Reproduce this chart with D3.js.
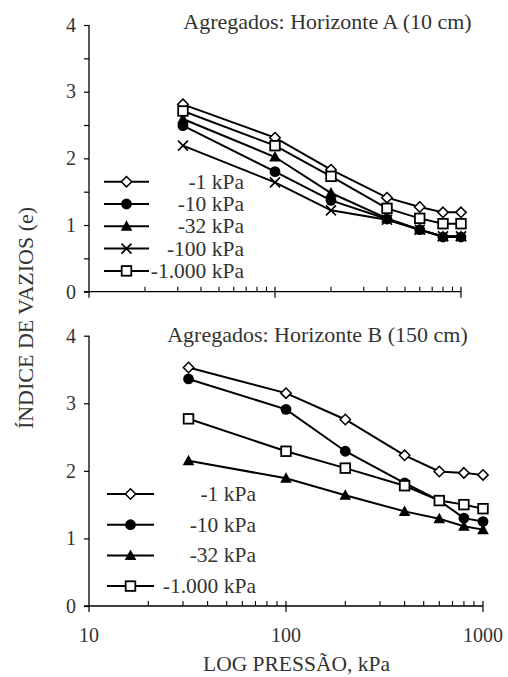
<!DOCTYPE html>
<html><head><meta charset="utf-8">
<script src="https://cdn.jsdelivr.net/npm/d3@7"></script>
</head><body style="margin:0">
<script>
// ---- data ----
const pressures = [32, 100, 200, 400, 600, 800, 1000];
const xTickLabels = ["10", "100", "1000"];
const yTickLabels = ["0", "1", "2", "3", "4"];
const titleA = "Agregados: Horizonte A (10 cm)";
const titleB = "Agregados: Horizonte B (150 cm)";
const xAxisTitle = "LOG PRESSÃO, kPa";
const yAxisTitle = "ÍNDICE DE VAZIOS (e)";

const namesA = ["-1 kPa", "-10 kPa", "-32 kPa", "-100 kPa", "-1.000 kPa"];
const symbolsA = ["diamond", "circle", "triangle", "cross", "square"];
const a_1 = [2.81, 2.31, 1.83, 1.41, 1.27, 1.19, 1.19];
const a_10 = [2.49, 1.80, 1.37, 1.09, 0.93, 0.82, 0.82];
const a_32 = [2.59, 2.02, 1.48, 1.10, 0.93, 0.83, 0.83];
const a_100 = [2.19, 1.64, 1.22, 1.08, 0.93, 0.83, 0.83];
const a_1000 = [2.71, 2.19, 1.73, 1.25, 1.10, 1.02, 1.02];

const namesB = ["-1 kPa", "-10 kPa", "-32 kPa", "-1.000 kPa"];
const symbolsB = ["diamond", "circle", "triangle", "square"];
const b_1 = [3.53, 3.15, 2.76, 2.23, 1.99, 1.97, 1.94];
const b_10 = [3.36, 2.91, 2.29, 1.82, 1.56, 1.30, 1.25];
const b_32 = [2.15, 1.89, 1.64, 1.40, 1.29, 1.18, 1.13];
const b_1000 = [2.77, 2.29, 2.04, 1.78, 1.56, 1.50, 1.44];

const W = 508, H = 677;
const FONT = "Times New Roman";
d3.select("head").append("style").text(`svg text{font-family:"${FONT}" !important;}`);
const svg = d3.select("body").append("svg").attr("width", W).attr("height", H);

function txt(parent) {
  return parent.append("text").style("font-family", `"${FONT}"`).attr("fill", "#333");
}

function marker(g, type, x, y) {
  const s = 5.2;
  if (type === "diamond") {
    g.append("path").attr("d", `M${x},${y-s}L${x+s},${y}L${x},${y+s}L${x-s},${y}Z`)
      .attr("fill", "#fff").attr("stroke", "#000").attr("stroke-width", 1.5);
  } else if (type === "circle") {
    g.append("circle").attr("cx", x).attr("cy", y).attr("r", 5.4).attr("fill", "#000");
  } else if (type === "triangle") {
    g.append("path").attr("d", `M${x},${y-6}L${x+5.8},${y+4.5}L${x-5.8},${y+4.5}Z`).attr("fill", "#000");
  } else if (type === "cross") {
    g.append("path").attr("d", `M${x-5},${y-5}L${x+5},${y+5}M${x-5},${y+5}L${x+5},${y-5}`)
      .attr("stroke", "#000").attr("stroke-width", 1.6);
  } else if (type === "square") {
    g.append("rect").attr("x", x-4.8).attr("y", y-4.8).attr("width", 9.6).attr("height", 9.6)
      .attr("fill", "#fff").attr("stroke", "#000").attr("stroke-width", 1.8);
  }
}

function panel(cfg) {
  const x = d3.scaleLog().domain([10, 1000]).range([cfg.x0, cfg.x1]);
  const y = d3.scaleLinear().domain([0, 4]).range([cfg.y0, cfg.y1]);
  const g = svg.append("g");

  const yAx = d3.axisLeft(y).tickValues(cfg.yTicks).tickSize(5).tickFormat("");
  const ya = g.append("g").attr("transform", `translate(${cfg.x0},0)`).call(yAx);
  ya.select(".domain").attr("stroke", "#000").attr("stroke-width", 1.3).attr("d", `M0,${cfg.y0}V${cfg.y1}`);
  ya.selectAll(".tick line").attr("stroke", "#000").attr("stroke-width", 1.2);
  ya.selectAll(".tick text").remove();
  yTickLabels.forEach((lab, i) => {
    txt(g).attr("x", cfg.x0 - 13).attr("y", y(i)).attr("dy", "0.34em").attr("text-anchor", "end")
      .attr("font-size", 20).text(lab);
  });

  const xa = g.append("g").attr("transform", `translate(0,${cfg.y0})`);
  xa.append("line").attr("x1", cfg.x0 - 5).attr("x2", cfg.x1).attr("stroke", "#000").attr("stroke-width", 1.3);
  const minor = [];
  [10, 100].forEach(b => { for (let k = 2; k <= 9; k++) minor.push(b * k); });
  xa.selectAll(".mn").data(minor).enter().append("line")
    .attr("x1", d => x(d)).attr("x2", d => x(d)).attr("y1", -5).attr("y2", 0)
    .attr("stroke", "#000").attr("stroke-width", 1.1);
  const major = [10, 100, 1000];
  xa.selectAll(".mj").data(major).enter().append("line")
    .attr("x1", d => x(d)).attr("x2", d => x(d)).attr("y1", d => d === 10 ? 0 : -5).attr("y2", 6)
    .attr("stroke", "#000").attr("stroke-width", 1.2);
  if (cfg.xLabels) {
    major.forEach((d, i) => {
      txt(xa).attr("x", x(d)).attr("y", 36).attr("text-anchor", "middle").attr("font-size", 20)
        .text(xTickLabels[i]);
    });
  }

  txt(g).attr("x", cfg.tx).attr("y", cfg.ty).attr("text-anchor", "middle")
    .attr("font-size", 22).text(cfg.title);

  const line = d3.line().x(d => x(d[0])).y(d => y(d[1]));
  cfg.series.forEach((vals) => {
    const pts = pressures.map((p, j) => [p, vals[j]]);
    g.append("path").attr("d", line(pts)).attr("fill", "none").attr("stroke", "#000").attr("stroke-width", 2);
  });
  cfg.series.forEach((vals, i) => {
    pressures.forEach((p, j) => marker(g, cfg.symbols[i], x(p), y(vals[j])));
  });

  cfg.names.forEach((n, i) => {
    const ly = cfg.ly + i * cfg.ldy;
    g.append("line").attr("x1", cfg.lx0).attr("x2", cfg.lx1).attr("y1", ly).attr("y2", ly)
      .attr("stroke", "#000").attr("stroke-width", 2);
    marker(g, cfg.symbols[i], (cfg.lx0 + cfg.lx1) / 2, ly);
    txt(g).attr("x", cfg.ltx).attr("y", ly + 7).attr("text-anchor", "end")
      .attr("font-size", 21.5).text(n);
  });
}

panel({
  x0: 89, x1: 461, y0: 291.7, y1: 25,
  yTicks: [0, 0.5, 1, 1.5, 2, 2.5, 3, 3.5, 4],
  xLabels: false, title: titleA, tx: 327.5, ty: 29,
  series: [a_1, a_10, a_32, a_100, a_1000], names: namesA, symbols: symbolsA,
  lx0: 104, lx1: 149, ly: 181.7, ldy: 22.3, ltx: 244
});
panel({
  x0: 89, x1: 483, y0: 606, y1: 335.7,
  yTicks: [0, 1, 2, 3, 4],
  xLabels: true, title: titleB, tx: 317.5, ty: 342,
  series: [b_1, b_10, b_32, b_1000], names: namesB, symbols: symbolsB,
  lx0: 107, lx1: 154, ly: 494, ldy: 30.7, ltx: 256
});

txt(svg).attr("x", 296.5).attr("y", 671).attr("text-anchor", "middle")
  .attr("font-size", 21.5).text(xAxisTitle);
txt(svg).attr("transform", "translate(33,318) rotate(-90)").attr("text-anchor", "middle")
  .attr("font-size", 22).text(yAxisTitle);
</script>
</body></html>
